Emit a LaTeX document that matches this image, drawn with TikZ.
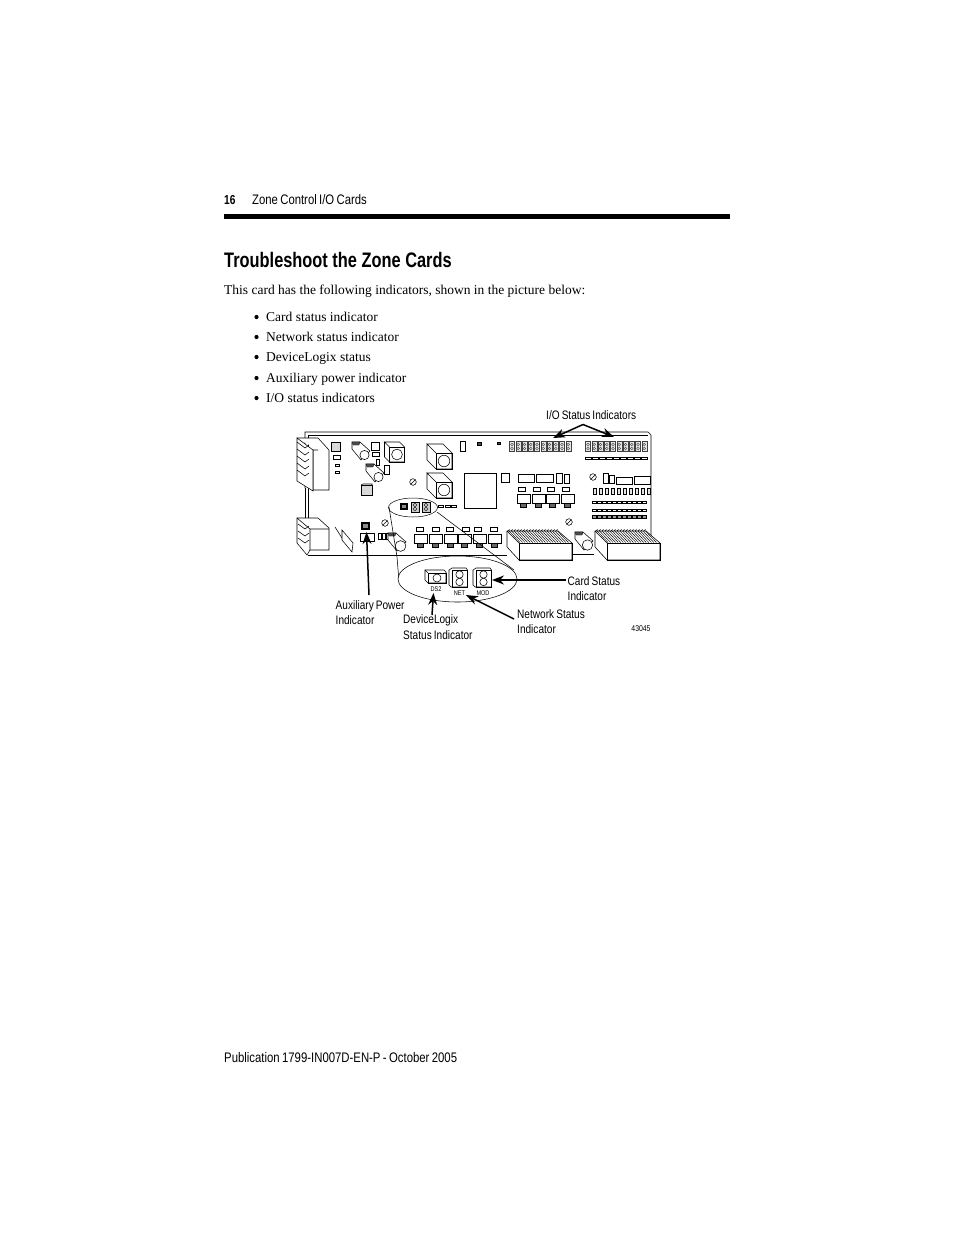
\documentclass[tikz,border=0pt]{standalone}
\usepackage{fontspec}
\setmainfont{Liberation Serif}
\newfontfamily\narrowf[FakeStretch=0.82,WordSpace=0.75]{Liberation Sans}
\newfontfamily\headf[FakeStretch=0.78]{Liberation Sans}
\usetikzlibrary{arrows.meta}
\tikzset{
 pcb/.style={draw=black,line width=.55pt,fill=white},
 wire/.style={draw=black,line width=.55pt},
 dk/.style={draw=black,line width=.4pt,fill=black!60},
 lbl/.style={anchor=west,inner sep=0pt,font=\narrowf\fontsize{12.3}{14}\selectfont,align=flush left},
 tiny/.style={inner sep=0pt,font=\narrowf\fontsize{6.8}{7}\selectfont},
 body/.style={anchor=base west,inner sep=0pt,font=\fontsize{13.5}{16}\selectfont},
 callout/.style={draw=black,line width=1.5pt,-{Stealth[length=12pt,width=9pt]}},
}
\newcommand{\rc}[4]{\path[pcb] (#1,#2) rectangle (#3,#4);}
\newcommand{\capac}[3]{% top-left x, y, radius: slanted can
 \path[pcb] (#1,#2) -- ++(8,0) -- ++(10,9) -- ++(-9,9) -- ++(-9,-11) -- cycle;
 \path[pcb] (#1+12.5,#2+13) circle (#3);
 \path[draw=black,fill=black!70,line width=.3pt] (#1,#2) -- ++(8,0) -- ++(-1,3) -- ++(-6,0) -- cycle;}
\newcommand{\cube}[4]{% front x,y,size,offset
 \path[pcb] (#1,#2) -- ++(-#4,-#4) -- ++(#3,0) -- ++(#4,#4) -- ++(0,#3) -- ++(-#3,0) -- ++(-#4,-#4) -- ++(0,-#3) -- cycle;
 \path[wire] (#1,#2) rectangle ++(#3,#3);
 \path[wire] (#1+#3/2,#2+#3/2) circle ({#3*.36});}
\newcommand{\slashc}[2]{\path[wire] (#1,#2) circle (3.3); \path[wire] (#1-2,#2+2) -- (#1+2,#2-2);}
\newcommand{\ledrow}[3]{% x0 y count
 \foreach \i in {1,...,#3}{
  \path[draw=black!75,line width=.35pt,fill=black!10] ({#1+(\i-1)*6.25},#2) rectangle ++(5,10);
  \path[draw=black!75,line width=.3pt] ({#1+(\i-1)*6.25+2.5},#2+3) circle (1.4) ({#1+(\i-1)*6.25+2.5},#2+7) circle (1.4);}}
\newcommand{\dashrow}[5]{% x0 y count pitch shade
 \foreach \i in {1,...,#3}{
  \path[draw=black,line width=.35pt,fill=black!#5] ({#1+(\i-1)*#4},#2) rectangle ++(#4-1.2,2.4);}}
\newcommand{\smd}[2]{% x,y of component with dark foot
 \path[pcb] (#1,#2) rectangle ++(13,9);
 \path[dk] (#1+3.5,#2+9) rectangle ++(6,4);}
\newcommand{\heatsink}[2]{% front-left x,y
 \path[pcb] (#1-12,#2-12) -- ++(51,0) -- ++(14,12) -- ++(0,17) -- ++(-53,0) -- ++(-12,-13) -- cycle;
 \path[wire] (#1,#2) rectangle ++(53,17);
 \path[wire] (#1-12,#2-12) -- (#1,#2);
 \foreach \k in {0,...,19}{
  \path[draw=black,line width=.45pt] ({#1-10+\k*2.55},#2-12) -- ({#1+1+\k*2.55},#2-.5);}
 \foreach \k in {0,...,16}{
  \path[draw=black,line width=.5pt] ({#1-11+\k*3},#2-12) -- ++(1.5,-1.6);}}
\begin{document}
\begin{tikzpicture}[x=1pt,y=-1pt]
\useasboundingbox (0,0) rectangle (954,1235);
\fill[white] (0,0) rectangle (954,1235);
% header
\node[anchor=west,inner sep=0pt,font=\headf\bfseries\fontsize{13}{14}\selectfont] (pg) at (224,200) {16};
\node[anchor=west,inner sep=0pt,font=\narrowf\fontsize{13.8}{14}\selectfont] (hd) at (252,200) {Zone Control I/O Cards};
\fill[black] (224,214) rectangle (729.5,218.5);
\node[anchor=west,inner sep=0pt,font=\headf\bfseries\fontsize{21}{24}\selectfont] (title) at (224,260) {Troubleshoot the Zone Cards};
\node[body] (intro) at (224,294) {This card has the following indicators, shown in the picture below:};
\foreach \yy/\tt/\nm in {321/Card status indicator/b1,341/Network status indicator/b2,361/DeviceLogix status/b3,382/Auxiliary power indicator/b4,402/{I/O status indicators}/b5}{
 \fill[black] (256.5,\yy-4) circle (2.1);
 \node[body] (\nm) at (266,\yy) {\tt};
}
\node[anchor=west,inner sep=0pt,font=\narrowf\fontsize{13.85}{14}\selectfont] (foot) at (224,1058) {Publication 1799-IN007D-EN-P - October 2005};
% board outline
\path[wire] (305,488) -- (305,432) -- (648,432) -- (651,435) -- (651,553);
\path[wire] (308,488) -- (308,435.5) -- (648,435.5);
\path[wire] (305,518) -- (305,488) (308,518) -- (308,488);
\path[wire] (308,555.5) -- (507,555.5) (572,554) -- (594,554);
\path[wire] (658,560) -- (660,560);
% top-left connector
\path[pcb] (297,438) -- (318,438) -- (329,450) -- (329,490) -- (313,490) -- (313,450) -- (318,450);
\path[pcb] (297,438) -- (313,450) -- (313,491) -- (297,481) -- cycle;
\foreach \k in {0,...,4}{\path[wire] (297,{442+\k*7}) -- (305,{448+\k*7}) -- (309,{445+\k*7});}
% bottom-left connector
\path[pcb] (297,518) -- (318,518) -- (329,528) -- (329,550) -- (310,550) -- (307,555) -- (297,543) -- cycle;
\path[wire] (297,518) -- (310,529) -- (329,529) (310,529) -- (310,550);
\foreach \k in {0,...,2}{\path[wire] (298,{524+\k*7}) -- (305,{529+\k*7}) -- (309,{526+\k*7});}
% left group
\path[draw=black,line width=.55pt,fill=black!15] (331,442) rectangle (340,451);
\rc{333}{455}{340}{459}
\rc{335}{464}{339}{466}
\rc{335}{471}{339}{473}
\capac{352}{442}{4.6}
\rc{371}{442}{379}{450}
\rc{372}{452}{379}{456}
\rc{376}{459}{379}{465}
\rc{384}{465}{389}{474}
\capac{366}{464}{4.6}
\path[draw=black,line width=.55pt,fill=black!15] (361,485) rectangle (372,495); \path[wire] (361,485) -- (363,484) -- (372,484) -- (372,485);
\cube{389.5}{447}{15}{5}
\cube{436}{453}{16}{9}
\cube{436}{482}{16}{9}
\slashc{413}{482}
\slashc{385}{523}
\rc{460}{441}{465}{451}
\path[draw=black,fill=black!70] (477,442) rectangle (481,445);
\path[draw=black,fill=black!70] (497,442) rectangle (500,444.5);
% chip
\rc{464}{473}{496}{508}
\rc{501}{473}{509}{482}
\rc{518}{474}{534}{482}
\rc{536}{474}{553}{482}
\rc{556}{473}{562}{483}
\rc{564}{474}{569}{483}
\foreach \xx in {518,533,547,562}{\rc{\xx}{487}{\xx+7}{491}}
\foreach \xx in {517,532,546,561}{\smd{\xx}{494}}
% LEDs
\ledrow{509.5}{441.5}{10}
\ledrow{585.5}{441.5}{10}
\dashrow{585}{457}{9}{7}{0}
% right zone
\slashc{593}{477}
\rc{603}{473}{608}{483}
\rc{609}{475}{614}{483}
\rc{616}{477}{632}{484}
\rc{634}{476}{650}{484}
\foreach \k in {0,...,9}{\path[draw=black,line width=.4pt,fill=black!10] ({593+\k*6},488) rectangle ++(3.4,6);}
\dashrow{592}{501}{11}{5}{0}
\dashrow{592}{509}{11}{5}{0}
\dashrow{592}{515.5}{11}{5}{40}
\slashc{569}{522}
% bottom row
\foreach \xx in {416,432,446,462,474,490}{\rc{\xx}{527}{\xx+7}{531}}
\foreach \xx in {414,429,444,458,473,488}{\smd{\xx}{534}}
% film + power
\path[wire] (335,527) -- (342,538);
\path[pcb] (342,530) -- (353,543) -- (352,552) -- (342,540) -- cycle;
\path[pcb] (361.5,522) rectangle (369,529); \path[draw=black,fill=black!45,line width=.4pt] (362.5,523) rectangle (368,528.5);
\rc{360}{533}{374}{541}
\path[pcb] (378,533) rectangle (381,539);
\path[pcb] (382,533) rectangle (385,539);
\path[pcb] (386,533) rectangle (389,539);
% main can
\capac{388}{533}{5.4}
% top ellipse
\coordinate (zl1) at (389,507);
\coordinate (zl2) at (399,581);
\coordinate (zr1) at (437,512);
\coordinate (zr2) at (514,570);
\path[draw=black,line width=.5pt] (413,507.5) ellipse (24.5 and 9.5);
\path[pcb] (400,503) rectangle (407,509);
\path[draw=black,fill=black!45,line width=.3pt] (401,504) rectangle (406,508);
\foreach \xx in {411,422}{\path[draw=black,fill=black!20,line width=.5pt] (\xx,502) rectangle ++(8,10);
 \path[draw=black,line width=.4pt] (\xx+4,505) circle (1.8) (\xx+4,509) circle (1.8);}
\foreach \xx in {438,445,451}{\rc{\xx}{505}{\xx+5}{507}}
% heatsinks, can
\heatsink{519}{543}
\heatsink{607}{543}
\capac{575}{532}{5.2}
% zoom lines
\path[wire] (zl1) -- (397,557) -- (zl2);
\path[wire] (zr1) -- (zr2);
% bottom ellipse
\path[draw=black,line width=.55pt,fill=white] (457.5,579) ellipse (59.5 and 23);
\path[pcb] (425,570) -- (444,570) -- (446,572) -- (446,583) -- (428,583) -- (425,580) -- cycle;
\path[wire] (428,573) rectangle (446,583);
\path[wire] (428,573) -- (425,570);
\path[wire] (437,578) circle (4);
\foreach \xx/\nn in {449/net,473/mod}{
 \path[pcb] (\xx,570) -- (\xx+3,568) -- (\xx+17,568) -- (\xx+18.5,570) -- (\xx+18.5,587) -- (\xx+2,587) -- (\xx,585) -- cycle;
 \path[wire] (\xx+3,570.5) rectangle (\xx+18.5,587);
 \path[wire] (\xx+10.5,574.5) circle (3.7) (\xx+10.5,582) circle (3.7);
}
\node[tiny] (ds2) at (436,589.5) {DS2};
\node[tiny] (net) at (459.5,593) {NET};
\node[tiny] (mod) at (483,593) {MOD};
% labels
\node[lbl] (io) at (546,415) {I/O Status Indicators};
\node[lbl,text width=70pt] (card) at (567.5,588.5) {Card Status\\[1.6pt]Indicator};
\node[lbl,text width=80pt] (nets) at (517,621.5) {Network Status\\[1.6pt]Indicator};
\node[lbl,text width=80pt] (dlx) at (403,627) {DeviceLogix\\[1.6pt]Status Indicator};
\node[lbl,text width=80pt] (aux) at (335.5,612.5) {Auxiliary Power\\[1.6pt]Indicator};
\node[inner sep=0pt,font=\narrowf\fontsize{8.4}{10}\selectfont] (num) at (641,629) {43045};
% callouts
\coordinate (iob) at (583,424.5);
\draw[callout] (iob) -- (553,438);
\draw[callout] (iob) -- (614,437);
\coordinate (cardb) at (566,580);
\coordinate (netb) at (514,619);
\coordinate (dlxb) at (432,615);
\coordinate (auxb) at (369,595);
\coordinate (cardt) at (492,580);
\coordinate (nett) at (466,595);
\coordinate (dlxt) at (433.5,593);
\coordinate (auxt) at (366.5,532);
\draw[callout] (cardb) -- (cardt);
\draw[callout] (netb) -- (nett);
\draw[callout] (dlxb) -- (dlxt);
\draw[callout] (auxb) -- (auxt);
\end{tikzpicture}
\end{document}
